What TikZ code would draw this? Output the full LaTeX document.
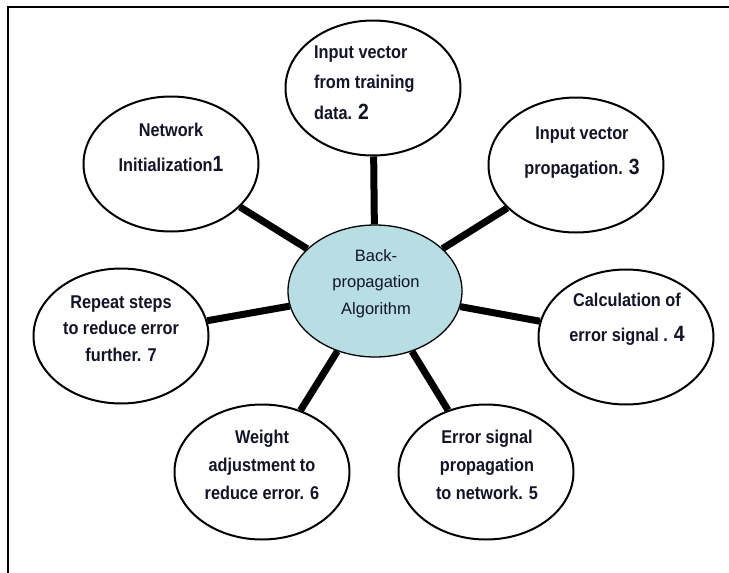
\documentclass[tikz,border=0pt]{standalone}
\usepackage{fontspec}
\setmainfont{Liberation Sans}
\newfontfamily\narrowfont[FakeStretch=0.88]{Liberation Sans}
\usetikzlibrary{shapes.geometric}
\definecolor{hubfill}{RGB}{183,222,226}
\definecolor{txt}{RGB}{20,20,40}
\newcommand{\stepnum}[1]{{\fontsize{22}{22}\selectfont #1}}
\begin{document}
\begin{tikzpicture}[x=1pt,y=-1pt,
  stepnode/.style={ellipse, draw=black, line width=2pt, fill=white, inner sep=0pt,
    minimum width=175pt, minimum height=135pt},
  hub/.style={ellipse, draw=black, line width=1.3pt, fill=hubfill, inner sep=0pt,
    minimum width=174pt, minimum height=132pt},
  lbl/.style={align=center, inner sep=0pt, text=txt, font=\narrowfont\bfseries\fontsize{18.5}{#1}\selectfont},
  hublbl/.style={align=center, inner sep=0pt, text=txt, font=\fontsize{16.5}{26.5}\selectfont},
  spoke/.style={line width=7pt, draw=black},
  frameline/.style={line width=2.5pt, draw=black}]
\useasboundingbox (0,0) rectangle (729,573);
% frame
\coordinate (fb) at (8,573);
\coordinate (fc) at (8,7);
\coordinate (fr) at (729,7);
\draw[frameline] (fb) -- (fc) -- (fr);
% nodes
\node[hub] (hub) at (375,291) {};
\node[stepnode] (n1) at (171,164) {};
\node[stepnode] (n2) at (373,88) {};
\node[stepnode] (n3) at (576,165) {};
\node[stepnode] (n4) at (626,337) {};
\node[stepnode] (n5) at (486,472) {};
\node[stepnode] (n6) at (262,472) {};
\node[stepnode] (n7) at (121,336) {};
% spokes
\foreach \n in {n1,n2,n3,n4,n5,n6,n7}
  \draw[spoke] (hub) -- (\n);
% labels
\node[hublbl] (th) at (376,283.5) {Back-\\propagation\\Algorithm};
\node[lbl=35] (t1) at (171,147.5) {Network\\Initialization\stepnum{1}};
\node[lbl=30.5, align=left, anchor=west] (t2) at (314,82.5) {Input vector\\from training\\data. \stepnum{2}};
\node[lbl=35] (t3) at (582,152.5) {Input vector\\propagation. \stepnum{3}};
\node[lbl=35] (t4) at (627,319.5) {Calculation of\\error signal . \stepnum{4}};
\node[lbl=28] (t5) at (487,465) {Error signal\\propagation\\to network. 5};
\node[lbl=28] (t6) at (262,465) {Weight\\adjustment to\\reduce error. 6};
\node[lbl=26.5] (t7) at (121,328.5) {Repeat steps\\to reduce error\\further. 7};
\end{tikzpicture}
\end{document}
